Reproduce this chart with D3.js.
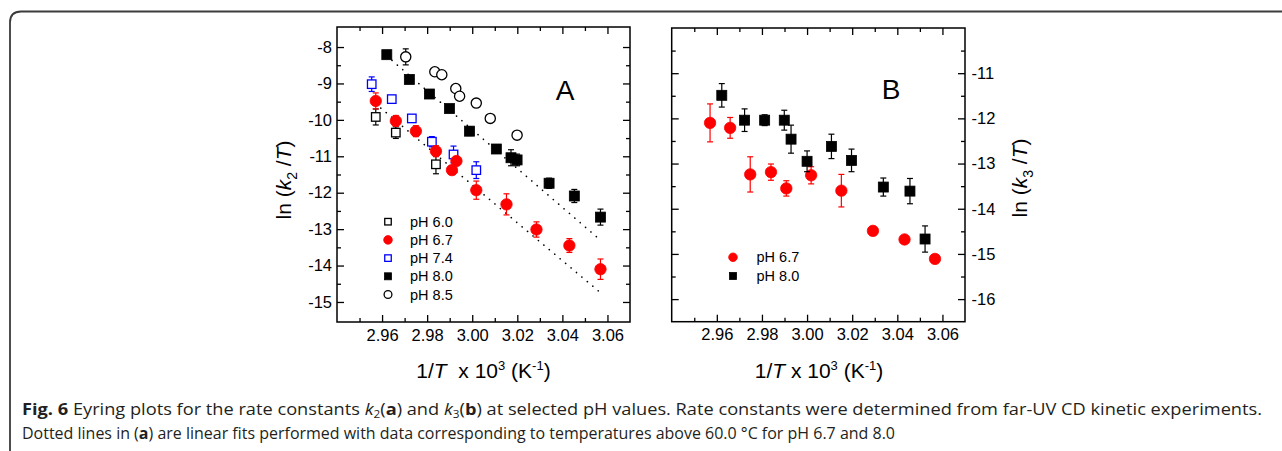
<!DOCTYPE html>
<html><head><meta charset="utf-8">
<script src="https://cdn.jsdelivr.net/npm/d3@7"></script>
<style>body{margin:0;background:#fff}svg{display:block}</style>
</head><body>
<script>
// ---------- data ----------
const xTicks = [2.96, 2.98, 3.00, 3.02, 3.04, 3.06];
const xMinor = [2.95, 2.97, 2.99, 3.01, 3.03, 3.05];
const yTicksA = [-8, -9, -10, -11, -12, -13, -14, -15];
const yMinorA = [-8.5, -9.5, -10.5, -11.5, -12.5, -13.5, -14.5];
const yTicksB = [-11, -12, -13, -14, -15, -16];
const yMinorB = [-10.5, -11.5, -12.5, -13.5, -14.5, -15.5];

// Panel A: [1/T x 10^3, ln(k2/T), error]
const a_pH60 = [[2.9572,-9.92,0.22],[2.9661,-10.35,0.16],[2.9839,-11.22,0.26]];
const a_pH67 = [[2.9572,-9.48,0.22],[2.9661,-10.03,0.15],[2.9750,-10.31,0.15],[2.9839,-10.86,0.15],
                [2.9910,-11.38,0.12],[2.9930,-11.13,0.12],[3.0018,-11.93,0.25],[3.0152,-12.32,0.29],
                [3.0285,-13.01,0.21],[3.0431,-13.45,0.19],[3.0569,-14.10,0.28]];
const a_pH74 = [[2.9554,-9.02,0.2],[2.9643,-9.43,0.08],[2.9732,-9.96,0.08],[2.9821,-10.60,0.14],
                [2.9917,-10.95,0.23],[3.0018,-11.38,0.23]];
const a_pH80 = [[2.9621,-8.21,0.1],[2.9721,-8.89,0.1],[2.9810,-9.29,0.06],[2.9899,-9.69,0.08],
                [2.9988,-10.31,0.12],[3.0107,-10.80,0.08],[3.0172,-11.04,0.22],[3.0199,-11.10,0.16],
                [3.0341,-11.74,0.14],[3.0453,-12.09,0.18],[3.0569,-12.67,0.22]];
const a_pH85 = [[2.9705,-8.27,0.22],[2.9834,-8.68,0.05],[2.9865,-8.76,0.05],[2.9927,-9.14,0.06],
                [2.9944,-9.35,0.06],[3.0018,-9.54,0.1],[3.0080,-9.96,0.06],[3.0199,-10.42,0.08]];
// linear fits (dotted) in panel A: endpoints
const fit67X = [2.957, 3.0572], fit67Y = [-9.55, -14.76];
const fit80X = [2.962, 3.0572], fit80Y = [-8.24, -13.32];

// Panel B: [1/T x 10^3, ln(k3/T), error]
const b_pH67 = [[2.9570,-12.10,0.42],[2.9659,-12.21,0.23],[2.9748,-13.24,0.39],[2.9840,-13.19,0.18],
                [2.9908,-13.55,0.17],[3.0018,-13.26,0.19],[3.0152,-13.60,0.36],[3.0292,-14.49,0.1],
                [3.0432,-14.68,0.05],[3.0567,-15.11,0.04]];
const b_pH80 = [[2.9622,-11.49,0.26],[2.9723,-12.04,0.25],[2.9812,-12.04,0.12],[2.9899,-12.04,0.22],
                [2.9929,-12.46,0.31],[3.0000,-12.95,0.23],[3.0108,-12.62,0.27],[3.0197,-12.93,0.25],
                [3.0338,-13.52,0.2],[3.0456,-13.61,0.28],[3.0523,-14.67,0.29]];

const legendA = ["pH 6.0", "pH 6.7", "pH 7.4", "pH 8.0", "pH 8.5"];
const legendB = ["pH 6.7", "pH 8.0"];

// ---------- drawing ----------
const W = 1282, H = 451;
const FONT = "'Liberation Sans', Arial, sans-serif";
const svg = d3.select("body").append("svg").attr("width", W).attr("height", H)
  .style("background", "#fff");

// outer box
svg.append("path")
  .attr("d", "M1300,11.5 L21,11.5 Q10,11.5 10,22.5 L10,470")
  .attr("fill", "none").attr("stroke", "#3b3b3b").attr("stroke-width", 1.8);

const styles = {
  "pH 6.0": {shape: "square", fill: "#fff", stroke: "#000", color: "#000"},
  "pH 6.7": {shape: "circle", fill: "#ff0000", stroke: "#ff0000", color: "#ff0000"},
  "pH 7.4": {shape: "square", fill: "#fff", stroke: "#0000ff", color: "#0000ff"},
  "pH 8.0": {shape: "square", fill: "#000", stroke: "#000", color: "#000"},
  "pH 8.5": {shape: "circle", fill: "#fff", stroke: "#000", color: "#000"}
};

function marker(g, st, x, y, big) {
  const filled = st.fill !== "#fff";
  if (st.shape === "square") {
    const s = big ? (filled ? 10 : 8.5) : (filled ? 7 : 6.5);
    g.append("rect").attr("x", x - s/2).attr("y", y - s/2).attr("width", s).attr("height", s)
      .attr("fill", st.fill).attr("stroke", st.stroke).attr("stroke-width", filled ? 0.8 : 1.3);
  } else {
    const r = big ? (filled ? 5.7 : 5.1) : (filled ? 4.3 : 3.9);
    g.append("circle").attr("cx", x).attr("cy", y).attr("r", r)
      .attr("fill", st.fill).attr("stroke", st.stroke).attr("stroke-width", filled ? 0.8 : 1.3);
  }
}

function series(g, xs, ys, data, st) {
  const eg = g.append("g").attr("stroke", st.color).attr("stroke-width", 1.2).attr("fill", "none");
  data.forEach(d => {
    const x = xs(d[0]), y1 = ys(d[1] + d[2]), y2 = ys(d[1] - d[2]);
    eg.append("line").attr("x1", x).attr("x2", x).attr("y1", y1).attr("y2", y2);
    eg.append("line").attr("x1", x - 3).attr("x2", x + 3).attr("y1", y1).attr("y2", y1);
    eg.append("line").attr("x1", x - 3).attr("x2", x + 3).attr("y1", y2).attr("y2", y2);
  });
  data.forEach(d => marker(g, st, xs(d[0]), ys(d[1]), true));
}

function axes(g, xs, ys, yMaj, yMin, labelSide) {
  const fmtY = d => String(d);
  const fmtX = d3.format(".2f");
  const apply = (sel) => {
    sel.select(".domain").remove();
    sel.selectAll("line").attr("stroke", "#000").attr("stroke-width", 1.3);
    sel.selectAll("text").attr("fill", "#000").style("font-family", FONT).style("font-size", "16.5px");
  };
  const [x0, x1] = xs.range(), [y0, y1] = ys.range();
  g.append("g").attr("transform", `translate(0,${y0})`)
    .call(d3.axisBottom(xs).tickValues(xTicks).tickSize(-7).tickPadding(7).tickFormat(fmtX)).call(apply);
  g.append("g").attr("transform", `translate(0,${y0})`)
    .call(d3.axisBottom(xs).tickValues(xMinor).tickSize(-4).tickFormat("")).call(apply);
  g.append("g").attr("transform", `translate(0,${y1})`)
    .call(d3.axisTop(xs).tickValues(xTicks).tickSize(-7).tickFormat("")).call(apply);
  g.append("g").attr("transform", `translate(0,${y1})`)
    .call(d3.axisTop(xs).tickValues(xMinor).tickSize(-4).tickFormat("")).call(apply);
  g.append("g").attr("transform", `translate(${x0},0)`)
    .call(d3.axisLeft(ys).tickValues(yMaj).tickSize(-7).tickPadding(5)
      .tickFormat(labelSide === "left" ? fmtY : "")).call(apply);
  g.append("g").attr("transform", `translate(${x0},0)`)
    .call(d3.axisLeft(ys).tickValues(yMin).tickSize(-4).tickFormat("")).call(apply);
  g.append("g").attr("transform", `translate(${x1},0)`)
    .call(d3.axisRight(ys).tickValues(yMaj).tickSize(-7).tickPadding(6.5)
      .tickFormat(labelSide === "right" ? fmtY : "")).call(apply);
  g.append("g").attr("transform", `translate(${x1},0)`)
    .call(d3.axisRight(ys).tickValues(yMin).tickSize(-4).tickFormat("")).call(apply);
  g.append("rect").attr("x", x0).attr("y", y1).attr("width", x1 - x0).attr("height", y0 - y1)
    .attr("fill", "none").attr("stroke", "#000").attr("stroke-width", 1.5);
}

function xLabel(g, cx, y, wide) {
  const t = g.append("text").attr("x", cx).attr("y", y).attr("text-anchor", "middle")
    .style("font-family", FONT).style("font-size", "21px").attr("fill", "#000")
    .attr("xml:space", "preserve");
  t.append("tspan").text("1/");
  t.append("tspan").attr("font-style", "italic").text("T");
  t.append("tspan").text(wide ? "  x 10" : " x 10");
  t.append("tspan").attr("font-size", "13px").attr("dy", -8).text("3");
  t.append("tspan").attr("dy", 8).text(" (K");
  t.append("tspan").attr("font-size", "13px").attr("dy", -8).text("-1");
  t.append("tspan").attr("dy", 8).text(")");
}

function yLabel(g, x, cy, sub) {
  const t = g.append("text").attr("transform", `translate(${x},${cy}) rotate(-90)`)
    .attr("text-anchor", "middle").style("font-family", FONT).style("font-size", "21px")
    .attr("fill", "#000").attr("xml:space", "preserve");
  t.append("tspan").text("ln (");
  t.append("tspan").attr("font-style", "italic").text("k");
  t.append("tspan").attr("font-size", "14px").attr("dy", 6).text(sub);
  t.append("tspan").attr("dy", -6).text(" /");
  t.append("tspan").attr("font-style", "italic").text("T");
  t.append("tspan").text(")");
}

// ---------- Panel A ----------
const xA = d3.scaleLinear().domain([2.94, 3.07]).range([337, 630]);
const yA = d3.scaleLinear().domain([-15.55, -7.45]).range([322, 27]);
const gA = svg.append("g");
const line = d3.line();
[[fit67X, fit67Y], [fit80X, fit80Y]].forEach(([fx, fy]) => {
  gA.append("path").attr("d", line(fx.map((x, i) => [xA(x), yA(fy[i])])))
    .attr("fill", "none").attr("stroke", "#000").attr("stroke-width", 1.6)
    .attr("stroke-linecap", "round").attr("stroke-dasharray", "0.1,7");
});
series(gA, xA, yA, a_pH60, styles["pH 6.0"]);
series(gA, xA, yA, a_pH74, styles["pH 7.4"]);
series(gA, xA, yA, a_pH67, styles["pH 6.7"]);
series(gA, xA, yA, a_pH85, styles["pH 8.5"]);
series(gA, xA, yA, a_pH80, styles["pH 8.0"]);
axes(gA, xA, yA, yTicksA, yMinorA, "left");
gA.append("text").attr("x", 565).attr("y", 100).attr("text-anchor", "middle")
  .style("font-family", FONT).style("font-size", "28px").text("A");
legendA.forEach((name, i) => {
  const y = 221.7 + i * 18.2;
  marker(gA, styles[name], 388, y, false);
  gA.append("text").attr("x", 410).attr("y", y + 5).style("font-family", FONT)
    .style("font-size", "14.5px").text(name);
});
xLabel(gA, 483.5, 378, true);
yLabel(gA, 291, 180, "2");

// ---------- Panel B ----------
const xB = d3.scaleLinear().domain([2.94, 3.07]).range([671.7, 965]);
const yB = d3.scaleLinear().domain([-16.5, -10]).range([321.7, 28]);
const gB = svg.append("g");
series(gB, xB, yB, b_pH67, styles["pH 6.7"]);
series(gB, xB, yB, b_pH80, styles["pH 8.0"]);
axes(gB, xB, yB, yTicksB, yMinorB, "right");
gB.append("text").attr("x", 891).attr("y", 99).attr("text-anchor", "middle")
  .style("font-family", FONT).style("font-size", "28px").text("B");
legendB.forEach((name, i) => {
  const y = 257.3 + i * 18.7;
  marker(gB, styles[name], 733, y, false);
  gB.append("text").attr("x", 756.5).attr("y", y + 5).style("font-family", FONT)
    .style("font-size", "14.5px").text(name);
});
xLabel(gB, 819, 378, false);
yLabel(gB, 1027, 178, "3");

// ---------- caption ----------
const CAP = "'Open Sans', sans-serif";
function caption(y, parts, len) {
  const t = svg.append("text").attr("x", 22).attr("y", y).style("font-family", CAP)
    .style("font-size", "15.5px").attr("fill", "#231f20").attr("xml:space", "preserve")
    .attr("textLength", len).attr("lengthAdjust", "spacingAndGlyphs");
  let shifted = false;
  parts.forEach(p => {
    const s = t.append("tspan").text(p.t);
    if (p.b) s.attr("font-weight", "bold");
    if (p.i) s.attr("font-style", "italic");
    if (p.sub) { s.attr("font-size", "10px").attr("dy", 2.5); shifted = true; }
    else if (shifted) { s.attr("dy", -2.5); shifted = false; }
  });
}
caption(415, [
  {t: "Fig. 6", b: true}, {t: " Eyring plots for the rate constants "}, {t: "k", i: true}, {t: "2", sub: true},
  {t: "("}, {t: "a", b: true}, {t: ") and "}, {t: "k", i: true}, {t: "3", sub: true}, {t: "("}, {t: "b", b: true},
  {t: ") at selected pH values. Rate constants were determined from far-UV CD kinetic experiments."}
], 1240);
caption(439, [
  {t: "Dotted lines in ("}, {t: "a", b: true},
  {t: ") are linear fits performed with data corresponding to temperatures above 60.0 °C for pH 6.7 and 8.0"}
], 873);
</script>
</body></html>
